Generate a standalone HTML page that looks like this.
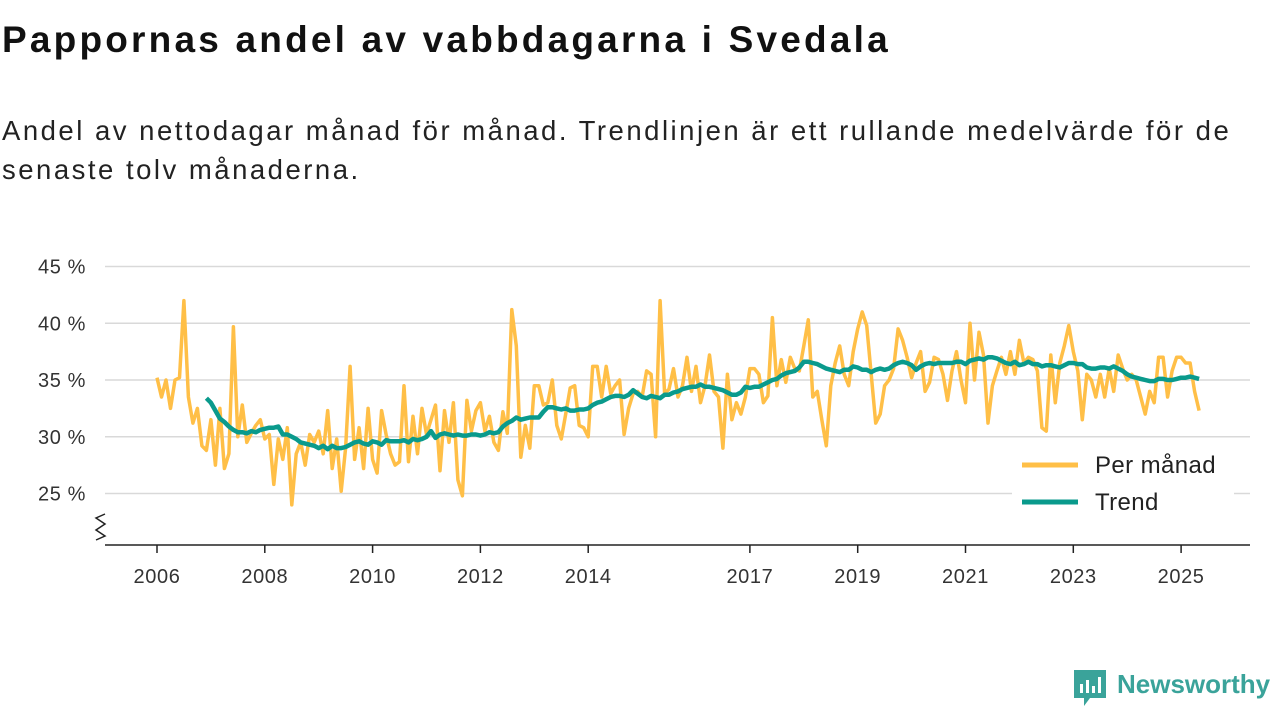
<!DOCTYPE html>
<html><head><meta charset="utf-8"><style>
body{margin:0;width:1280px;height:720px;background:#fff;font-family:"Liberation Sans",sans-serif;overflow:hidden;position:relative}
#title{position:absolute;left:2px;top:19px;font-size:37px;font-weight:bold;color:#111;margin:0;letter-spacing:3.2px}
#sub{position:absolute;left:2px;top:111px;font-size:27.5px;line-height:39px;color:#222;width:1275px;letter-spacing:2.5px;white-space:nowrap}
svg{position:absolute;left:0;top:0}
</style></head><body>
<h1 id="title">Pappornas andel av vabbdagarna i Svedala</h1>
<div id="sub">Andel av nettodagar månad för månad. Trendlinjen är ett rullande medelvärde för de<br>senaste tolv månaderna.</div>
<svg id="chart" width="1280" height="720"></svg>
<script>
const monthly=[35.2,33.5,35,32.5,35,35.2,42,33.5,31.2,32.5,29.2,28.8,
31.5,27.5,32.5,27.2,28.5,39.7,30,32.8,29.5,30.3,31,31.5,
29.8,30.2,25.8,29.8,28,30.8,24,28.5,29.5,27.5,30.2,29.5,
30.5,28.5,32.3,27.2,29.8,25.2,29,36.2,28,30.8,27.2,32.5,
28,26.8,32.3,30.2,28.5,27.5,27.8,34.5,27.8,31.8,28.5,32.5,
30.2,31.5,32.8,27,32.3,29.5,33,26.2,24.8,33.2,30.5,32.3,
33,30.5,31.8,29.5,28.8,32.2,30.3,41.2,38,28.2,31,29,
34.5,34.5,32.8,33,35,31,29.8,32,34.3,34.5,31,30.8,
30,36.2,36.2,33.5,36.2,33.8,34.5,35,30.2,32.5,33.8,34,
33.5,35.8,35.5,30,42,33.8,34.2,36,33.5,34.5,37,34,
36.2,33,34.5,37.2,34,33.5,29,35.5,31.5,33,32,33.5,
36,36,35.5,33,33.6,40.5,34.5,36.8,34.8,37,36,35.8,
38,40.3,33.5,34,31.5,29.2,34.5,36.5,38,35.5,34.5,37.5,
39.5,41,39.8,35.5,31.2,32,34.5,35,36,39.5,38.5,37,
35.2,36.5,37.5,34,34.8,37,36.8,35.5,33.2,35.8,37.5,35,
33,40,35,39.2,37.2,31.2,34.5,35.8,37,35.5,37.5,35.5,
38.5,36.5,37,36.8,35.8,30.8,30.5,37.2,33,36.5,38,39.8,
37.5,35.8,31.5,35.5,35,33.5,35.5,33.5,36,34,37.2,36,
35,35.5,35,33.5,32,34,33,37,37,33.5,35.8,37,
37,36.5,36.5,34,32.3];
const trendStart=11; // months after Jan 2006
const trend=[33.4,
33.0,32.3,31.6,31.3,30.9,30.6,30.4,30.4,30.3,30.5,30.4,30.6,
30.7,30.8,30.8,30.9,30.2,30.2,30.0,29.8,29.5,29.4,29.3,29.2,
29.0,29.2,28.9,29.2,29.0,29.0,29.1,29.3,29.5,29.6,29.4,29.3,
29.6,29.5,29.3,29.7,29.6,29.6,29.6,29.7,29.5,29.8,29.7,29.8,
30.0,30.5,29.9,30.2,30.3,30.2,30.1,30.2,30.1,30.1,30.2,30.2,
30.1,30.2,30.4,30.3,30.4,30.9,31.2,31.4,31.7,31.5,31.6,31.7,
31.7,31.7,32.2,32.6,32.6,32.5,32.4,32.5,32.3,32.3,32.4,32.4,
32.5,32.8,33.0,33.1,33.3,33.5,33.6,33.6,33.5,33.7,34.1,33.8,
33.5,33.4,33.6,33.5,33.4,33.7,33.7,33.9,34.0,34.2,34.3,34.4,
34.4,34.6,34.4,34.4,34.3,34.2,34.1,33.9,33.7,33.7,33.9,34.4,
34.3,34.4,34.4,34.6,34.8,35.0,35.1,35.4,35.6,35.7,35.8,36.1,
36.6,36.6,36.5,36.4,36.2,36.0,35.9,35.8,35.7,35.9,35.9,36.2,
36.1,35.9,35.9,35.7,35.9,36.0,35.9,36.0,36.3,36.5,36.6,36.5,
36.3,35.9,36.2,36.4,36.5,36.4,36.5,36.5,36.5,36.5,36.6,36.6,
36.4,36.7,36.8,36.9,36.8,37.0,37.0,36.9,36.7,36.5,36.4,36.6,
36.3,36.4,36.6,36.4,36.4,36.2,36.3,36.3,36.2,36.1,36.3,36.5,
36.5,36.4,36.4,36.1,36.0,36.0,36.1,36.1,36.0,36.2,36.0,35.8,
35.5,35.3,35.2,35.1,35.0,34.9,34.9,35.1,35.1,35.0,35.0,35.1,
35.2,35.2,35.3,35.2,35.1];
const yTicks=[25,30,35,40,45];
const xTicks=[2006,2008,2010,2012,2014,2017,2019,2021,2023,2025];

const NS='http://www.w3.org/2000/svg';
const svg=document.getElementById('chart');
const X=t=>157+t*53.9;            // t = years since Jan 2006
const Y=v=>380-(v-35)*11.35;
function mk(tag,attrs){const e=document.createElementNS(NS,tag);for(const k in attrs)e.setAttribute(k,attrs[k]);svg.appendChild(e);return e;}
yTicks.forEach(v=>{
  const g=mk('line',{x1:105,x2:1250,y1:Y(v),y2:Y(v),stroke:'#d9d9d9','stroke-width':1.5});
  
  
  const t=mk('text',{x:86,y:Y(v)+7,'text-anchor':'end','font-size':20,fill:'#333','font-family':'Liberation Sans','letter-spacing':'0.6'});
  t.textContent=v+' %';
  
  
});
const ax=mk('line',{x1:105,x2:1250,y1:545,y2:545,stroke:'#222','stroke-width':1.5});


const zz=mk('polyline',{points:'96,540 105,536 96,530 105,524 96,518 105,514',fill:'none',stroke:'#222','stroke-width':1.5});


xTicks.forEach(yr=>{
  const x=X(yr-2006);
  const l=mk('line',{x1:x,x2:x,y1:545,y2:553,stroke:'#222','stroke-width':1.5});
  
  
  const t=mk('text',{x:x,y:583,'text-anchor':'middle','font-size':20,fill:'#333','font-family':'Liberation Sans','letter-spacing':'0.6'});
  t.textContent=yr;
  
  
});
const mp=monthly.map((v,i)=>X(i/12).toFixed(1)+','+Y(v).toFixed(1)).join(' ');
const ml=mk('polyline',{points:mp,fill:'none',stroke:'#ffbf47','stroke-width':3.5,'stroke-linejoin':'round'});


const tp=trend.map((v,i)=>X((i+trendStart)/12).toFixed(1)+','+Y(v).toFixed(1)).join(' ');
const tl=mk('polyline',{points:tp,fill:'none',stroke:'#0a9a8c','stroke-width':4.5,'stroke-linejoin':'round'});


const lb=mk('rect',{x:1012,y:445,width:222,height:80,fill:'#fff'});


[['Per månad','#ffbf47',465],['Trend','#0a9a8c',502]].forEach(([n,c,y])=>{
  const l=mk('line',{x1:1022,x2:1078,y1:y,y2:y,stroke:c,'stroke-width':5});
  
  
  const t=mk('text',{x:1095,y:y+8,'font-size':24,fill:'#222','font-family':'Liberation Sans','letter-spacing':'0.4'});
  t.textContent=n;
  
  
});
const logo=mk('g',{});


logo.innerHTML='<path d="M1074,670 h32 v28 h-16 l-6,8 v-8 h-10 z" fill="#3aa39a"/><rect x="1080" y="684" width="3" height="9" fill="#fff"/><rect x="1086" y="680" width="3" height="13" fill="#fff"/><rect x="1092" y="686" width="3" height="7" fill="#fff"/><rect x="1098" y="677" width="3" height="16" fill="#fff"/><text x="1117" y="693" font-size="26" font-weight="bold" fill="#3aa39a" font-family="Liberation Sans">Newsworthy</text>';
</script>
</body></html>
